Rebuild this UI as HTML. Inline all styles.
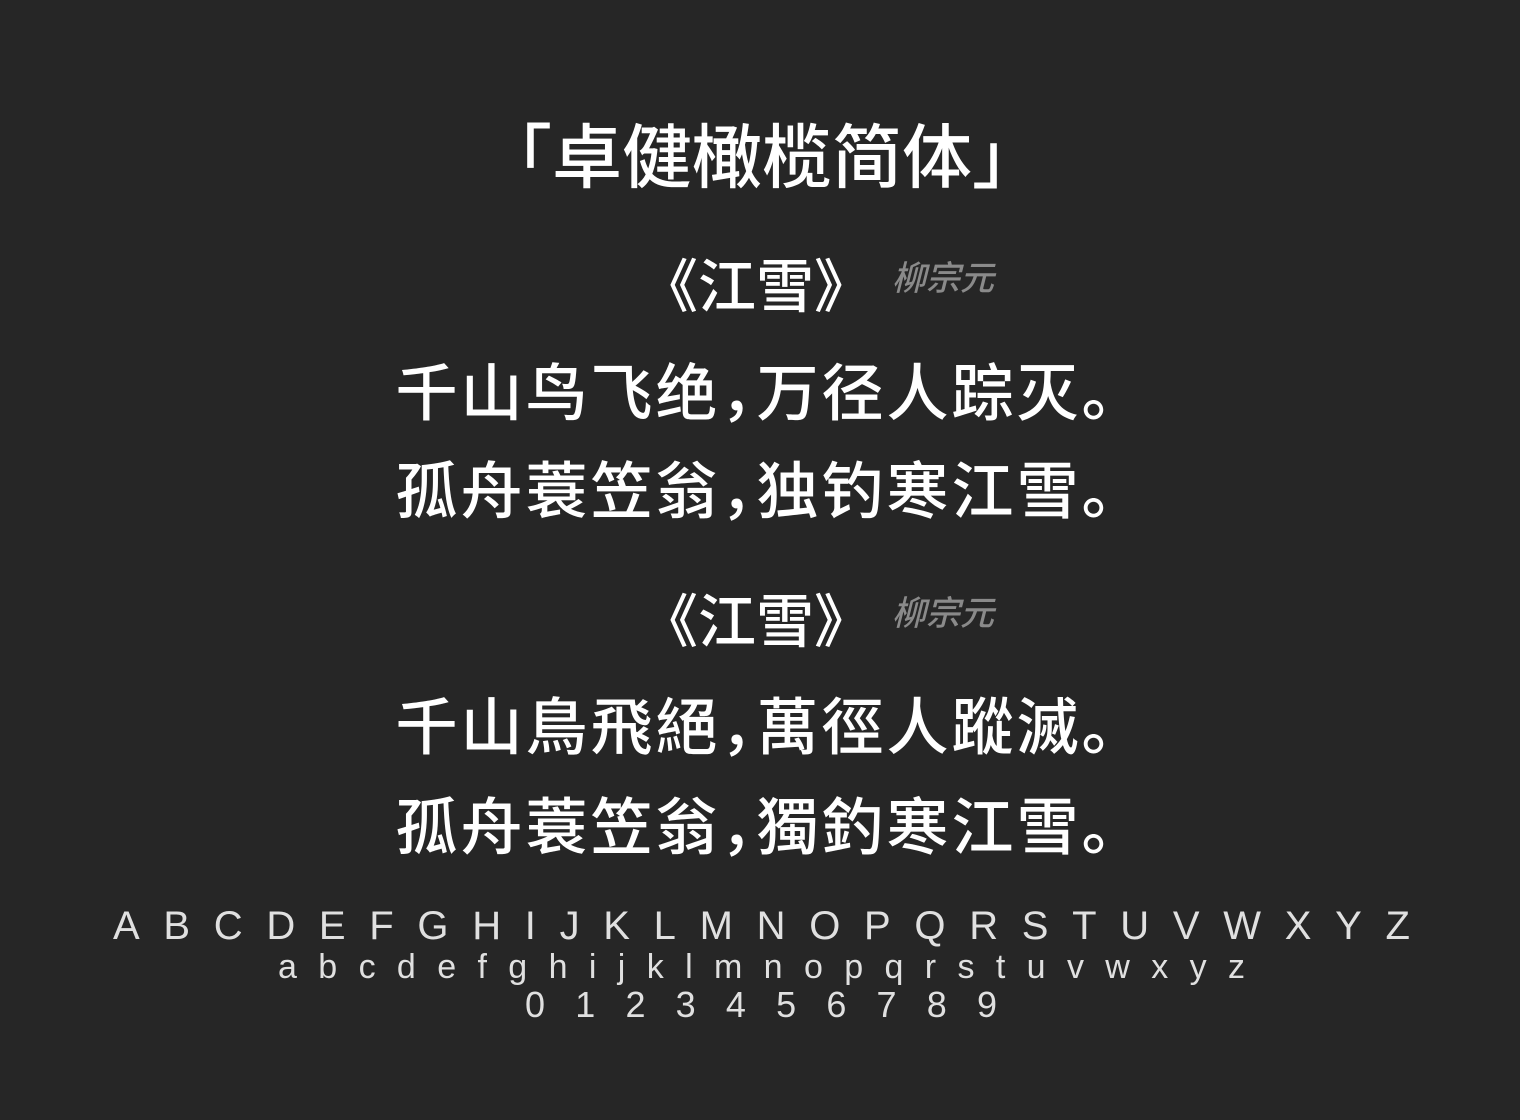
<!DOCTYPE html>
<html><head><meta charset="utf-8">
<style>
html,body{margin:0;padding:0;}
body{width:1520px;height:1120px;background:#262626;position:relative;overflow:hidden;
font-family:"Liberation Sans","Noto Sans CJK SC",sans-serif;color:#fff;}
.c{position:absolute;left:0;width:1520px;text-align:center;white-space:nowrap;font-family:"Noto Sans CJK SC","WenQuanYi Zen Hei",sans-serif;font-weight:500;line-height:1;}
.p{font-size:62px;letter-spacing:3px;left:11px;}
.a{position:absolute;white-space:nowrap;line-height:1;}
.row{position:absolute;display:flex;justify-content:space-between;font-family:"Liberation Sans",sans-serif;color:#e0e0e0;line-height:1;}
.cm{display:inline-block;width:36px;text-align:left;overflow:visible;}
</style></head><body>
<div class="c" style="top:118px;font-size:70px;left:2px;">「卓健橄榄简体」</div>

<div class="a" style="left:640px;top:253px;font-size:58px;font-family:'Noto Sans CJK SC',sans-serif;font-weight:500;">《江雪》</div>
<div class="a" style="left:892px;top:259px;font-size:34px;color:#8a8a8a;font-style:italic;font-family:'Noto Sans CJK SC',sans-serif;font-weight:500;">柳宗元</div>
<div class="c p" style="top:357px;">千山鸟飞绝<span class="cm">，</span>万径人踪灭。</div>
<div class="c p" style="top:455px;">孤舟蓑笠翁<span class="cm">，</span>独钓寒江雪。</div>

<div class="a" style="left:640px;top:588px;font-size:58px;font-family:'Noto Sans CJK SC',sans-serif;font-weight:500;">《江雪》</div>
<div class="a" style="left:892px;top:594px;font-size:34px;color:#8a8a8a;font-style:italic;font-family:'Noto Sans CJK SC',sans-serif;font-weight:500;">柳宗元</div>
<div class="c p" style="top:691px;">千山鳥飛絕<span class="cm">，</span>萬徑人蹤滅。</div>
<div class="c p" style="top:791px;">孤舟蓑笠翁<span class="cm">，</span>獨釣寒江雪。</div>

<div class="row" style="left:113px;width:1297px;top:906px;font-size:40px;">
<span>A</span><span>B</span><span>C</span><span>D</span><span>E</span><span>F</span><span>G</span><span>H</span><span>I</span><span>J</span><span>K</span><span>L</span><span>M</span><span>N</span><span>O</span><span>P</span><span>Q</span><span>R</span><span>S</span><span>T</span><span>U</span><span>V</span><span>W</span><span>X</span><span>Y</span><span>Z</span>
</div>
<div class="row" style="left:278px;width:967px;top:950px;font-size:34px;">
<span>a</span><span>b</span><span>c</span><span>d</span><span>e</span><span>f</span><span>g</span><span>h</span><span>i</span><span>j</span><span>k</span><span>l</span><span>m</span><span>n</span><span>o</span><span>p</span><span>q</span><span>r</span><span>s</span><span>t</span><span>u</span><span>v</span><span>w</span><span>x</span><span>y</span><span>z</span>
</div>
<div class="row" style="left:525px;width:472px;top:987px;font-size:36px;">
<span>0</span><span>1</span><span>2</span><span>3</span><span>4</span><span>5</span><span>6</span><span>7</span><span>8</span><span>9</span>
</div>
</body></html>
